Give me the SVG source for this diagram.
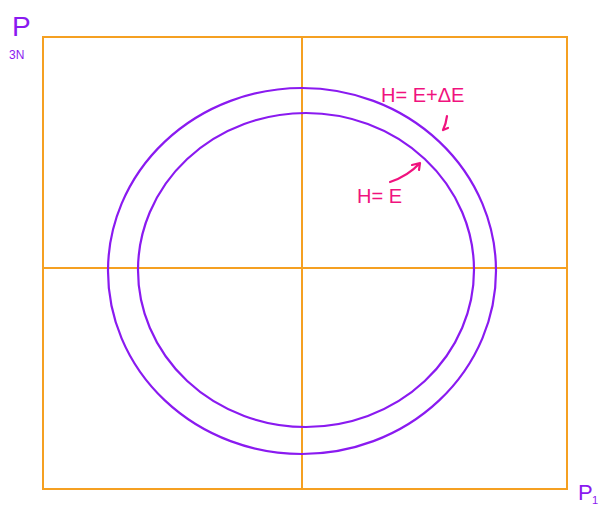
<svg xmlns="http://www.w3.org/2000/svg" width="600" height="506" viewBox="0 0 600 506">
<style>
.ax{stroke:#F5A021;stroke-width:2;fill:none;stroke-linecap:round}
.ring{stroke:#8A1AF0;stroke-width:2.2;fill:none}
.pk{fill:#F0127E;font-family:"Liberation Sans",Arial,sans-serif;font-size:20px}
.pu{fill:#8A1AF0;font-family:"Liberation Sans",Arial,sans-serif}
.arr{stroke:#F0127E;stroke-width:2.2;fill:none;stroke-linecap:round;stroke-linejoin:round}
</style>
<rect width="600" height="506" fill="#fff"/>
<g id="axes">
<rect class="ax" x="43" y="37" width="524" height="452"/>
<line class="ax" x1="302" y1="37" x2="302" y2="489"/>
<line class="ax" x1="43" y1="268" x2="567" y2="268"/>
</g>
<g id="outer-shell"><ellipse class="ring" cx="302" cy="271" rx="194" ry="183"/></g>
<g id="inner-shell"><ellipse class="ring" cx="306" cy="270" rx="168" ry="157"/></g>
<g id="label-outer"><text class="pk" x="381" y="102">H= E+ΔE</text></g>
<g id="label-inner"><text class="pk" x="357" y="203">H= E</text></g>
<g id="connectors">
<path class="arr" d="M447,116 Q446,124 443,130 M443,130 L448,128"/>
<path class="arr" d="M390,182 Q408,176 420,163 M412,165 L420,163 L419,170"/>
</g>
<g id="axis-labels">
<text class="pu" x="12" y="36" font-size="28">P</text>
<text class="pu" x="9" y="59" font-size="12">3N</text>
<text class="pu" x="578" y="500" font-size="22">P</text>
<text class="pu" x="592" y="504" font-size="11">1</text>
</g>
</svg>
